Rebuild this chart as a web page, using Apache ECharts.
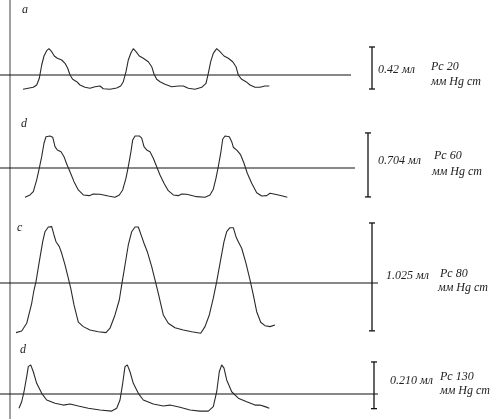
<!DOCTYPE html>
<html>
<head>
<meta charset="utf-8">
<script src="https://cdn.jsdelivr.net/npm/echarts@6/dist/echarts.min.js"></script>
<style>html,body{margin:0;padding:0;background:#fff}#c{width:500px;height:419px}</style>
</head>
<body>
<div id="c"></div>
<script>
// ---- data (time in 10 ms units, volume in ml relative to the zero line) ----
var traceA = [[23,-0.143],[33.3,-0.123],[36.7,-0.10],[39.3,-0.033],[41.7,0.10],[44,0.19],[46.7,0.243],[49,0.263],[51.7,0.233],[54.3,0.19],[57.3,0.167],[61.7,0.15],[65,0.117],[67.7,0.067],[70,0],[72.7,-0.043],[76.7,-0.067],[80,-0.10],[85,-0.123],[90,-0.133],[95,-0.117],[100,-0.11],[103.3,-0.137],[110,-0.143],[116.7,-0.13],[120.7,-0.11],[123.3,-0.067],[126,0.033],[128.3,0.15],[131,0.223],[133.3,0.263],[136,0.233],[139.3,0.19],[143.3,0.167],[148.3,0.133],[151.7,0.083],[154,0.01],[156.7,-0.043],[160,-0.067],[165,-0.093],[171.7,-0.117],[178.3,-0.11],[183.3,-0.11],[188.3,-0.133],[195,-0.143],[201.7,-0.123],[206,-0.083],[208.3,0.017],[210.7,0.133],[213.3,0.217],[216.7,0.263],[220,0.233],[224,0.19],[228.3,0.167],[232.7,0.133],[236,0.083],[238.3,0],[241.7,-0.043],[246,-0.067],[250,-0.10],[255,-0.123],[260,-0.123],[265,-0.11],[269.3,-0.11]];
var traceB = [[25,-0.322],[30,-0.297],[33.3,-0.261],[36.7,-0.132],[39.3,-0.003],[41.7,0.124],[44,0.272],[46,0.344],[50,0.352],[52.7,0.338],[55,0.234],[57.3,0.198],[61,0.179],[64,0.124],[66.7,0.044],[70,-0.041],[74,-0.151],[78.3,-0.242],[83.3,-0.297],[89.3,-0.305],[93.3,-0.286],[100,-0.289],[108.3,-0.308],[115,-0.322],[119.3,-0.297],[122.7,-0.242],[126,-0.113],[128.3,0.014],[130.7,0.162],[132.7,0.308],[135,0.352],[139.3,0.352],[141.7,0.327],[144,0.234],[146.7,0.198],[150,0.179],[153.3,0.107],[156.7,0.014],[160,-0.077],[164,-0.168],[168.3,-0.250],[173.3,-0.297],[178.3,-0.305],[181.7,-0.286],[186.7,-0.289],[196.7,-0.316],[205,-0.322],[210,-0.297],[213.3,-0.234],[216,-0.113],[218.3,0.014],[220.7,0.162],[222.7,0.316],[225,0.352],[229.3,0.344],[231.7,0.289],[233.3,0.228],[237.3,0.190],[240.7,0.143],[244,0.052],[247.3,-0.058],[251.7,-0.168],[256.7,-0.272],[261.7,-0.308],[266.7,-0.305],[270,-0.278],[275,-0.289],[281.7,-0.305],[287.3,-0.322]];
var traceC = [[16,-0.472],[21.7,-0.456],[26.7,-0.383],[31.7,-0.193],[34,-0.067],[36,0.012],[39.3,0.202],[42.7,0.392],[45,0.487],[48.3,0.532],[51.7,0.535],[54,0.456],[56,0.392],[59.3,0.345],[61.7,0.282],[65,0.171],[68.3,0.045],[70.7,-0.050],[74,-0.209],[78.3,-0.373],[83.3,-0.415],[90,-0.447],[98.3,-0.463],[106,-0.472],[110,-0.430],[115,-0.304],[119.3,-0.162],[121.7,-0.019],[125,0.171],[128.3,0.361],[131.7,0.487],[135,0.532],[138.3,0.532],[141.7,0.440],[144,0.377],[147.3,0.297],[151.7,0.155],[155,0.029],[158.3,-0.098],[163.3,-0.304],[168.3,-0.383],[175,-0.425],[183.3,-0.447],[191.7,-0.463],[200.7,-0.478],[205,-0.415],[209.3,-0.304],[213.3,-0.145],[216.7,0.012],[220,0.187],[224,0.392],[226.7,0.487],[230,0.525],[233.3,0.525],[236,0.440],[238.3,0.392],[241.7,0.330],[246,0.187],[250,0.029],[253.3,-0.114],[256.7,-0.273],[260.7,-0.373],[265,-0.406],[270,-0.415],[275,-0.399]];
var traceD = [[19,-0.064],[21.7,-0.035],[24,0.010],[26.7,0.078],[28.3,0.123],[30.7,0.131],[33.3,0.100],[36.7,0.048],[41.7,0.003],[46.7,-0.027],[55,-0.042],[63.3,-0.050],[70,-0.045],[78.3,-0.054],[88.3,-0.064],[100,-0.072],[111.7,-0.077],[116.7,-0.064],[120,-0.027],[122.7,0.048],[125,0.123],[127.3,0.131],[130,0.100],[133.3,0.048],[138.3,0.003],[143.3,-0.027],[153.3,-0.045],[163.3,-0.054],[170,-0.050],[180,-0.060],[190,-0.072],[200,-0.077],[208.3,-0.077],[213.3,-0.057],[216.7,0.010],[219.3,0.100],[221.7,0.131],[224,0.116],[226.7,0.063],[231.7,0.010],[238.3,-0.019],[246.7,-0.035],[255,-0.050],[260,-0.050],[265,-0.057],[269.3,-0.064]];

var panelLetters = ['a', 'd', 'c', 'd'];
var volumes = [0.42, 0.704, 1.025, 0.210];
var volumeLabels = ['0.42 мл', '0.704 мл', '1.025 мл', '0.210 мл'];
var pressureLabels = ['Pc 20', 'Pc 60', 'Pc 80', 'Pc 130'];
var unitLabel = 'мм Hg ст';
var barLow = [-0.14, -0.319, -0.455, -0.066];   // lower end of each volume scale bar, ml
var traces = [traceA, traceB, traceC, traceD];

// ---- layout ----
var layout = [
  {top: 35,    height: 70,   min: -0.3,  max: 0.4,  lineEnd: 351, barX: 372, letter: [22, 10],  vol: [378, 70],  p1: [431, 67],  p2: [431, 82]},
  {top: 122.5, height: 81.8, min: -0.4,  max: 0.5,  lineEnd: 355, barX: 368, letter: [21, 124], vol: [378, 161], p1: [434, 156], p2: [432, 172]},
  {top: 209.3, height: 136.8,min: -0.6,  max: 0.7,  lineEnd: 378, barX: 372, letter: [17, 228], vol: [386, 276], p1: [440, 274], p2: [438, 288]},
  {top: 358.4, height: 57.8, min: -0.1,  max: 0.16, lineEnd: 378, barX: 374, letter: [20, 350], vol: [390, 381], p1: [440, 377], p2: [440, 391]}
];

var FONT = 'italic 12px "Liberation Serif", "DejaVu Serif", serif';
var grids = [], xAxes = [], yAxes = [], series = [], graphics = [];
layout.forEach(function (L, i) {
  grids.push({left: 0, width: 500, top: L.top, height: L.height});
  xAxes.push({type: 'value', gridIndex: i, min: 0, max: 500, show: false});
  yAxes.push({type: 'value', gridIndex: i, min: L.min, max: L.max, show: false});
  series.push({
    type: 'line', xAxisIndex: i, yAxisIndex: i, data: traces[i], showSymbol: false, symbol: 'none',
    lineStyle: {color: '#2a2a2a', width: 1.1}, silent: true, z: 3
  });
  series.push({
    type: 'line', xAxisIndex: i, yAxisIndex: i, data: [[0, 0], [L.lineEnd, 0]], symbol: 'none',
    lineStyle: {color: '#111', width: 1.1}, silent: true, z: 2
  });
  series.push({
    type: 'line', xAxisIndex: i, yAxisIndex: i,
    data: [[L.barX, barLow[i]], [L.barX, barLow[i] + volumes[i]]],
    symbol: 'rect', symbolSize: [6, 1.3], showSymbol: true,
    itemStyle: {color: '#111'}, lineStyle: {color: '#111', width: 1.3}, silent: true, z: 4
  });
  graphics.push({type: 'text', x: L.letter[0], y: L.letter[1], style: {text: panelLetters[i], font: FONT, fill: '#222', verticalAlign: 'middle'}});
  graphics.push({type: 'text', x: L.vol[0], y: L.vol[1], style: {text: volumeLabels[i], font: FONT, fill: '#222', verticalAlign: 'middle'}});
  graphics.push({type: 'text', x: L.p1[0], y: L.p1[1], style: {text: pressureLabels[i], font: FONT, fill: '#222', verticalAlign: 'middle'}});
  graphics.push({type: 'text', x: L.p2[0], y: L.p2[1], style: {text: unitLabel, font: FONT, fill: '#222', verticalAlign: 'middle'}});
});
// full-height grey vertical axis line
grids.push({left: 10, width: 1, top: 0, bottom: 0});
xAxes.push({type: 'value', gridIndex: 4, show: false});
yAxes.push({type: 'value', gridIndex: 4, show: true, axisLine: {show: true, lineStyle: {color: '#a0a0a0', width: 2}},
  axisTick: {show: false}, axisLabel: {show: false}, splitLine: {show: false}});

var chart = echarts.init(document.getElementById('c'), null, {renderer: 'canvas'});
chart.setOption({
  animation: false,
  backgroundColor: '#fff',
  grid: grids, xAxis: xAxes, yAxis: yAxes, series: series, graphic: graphics
});
</script>
</body>
</html>
